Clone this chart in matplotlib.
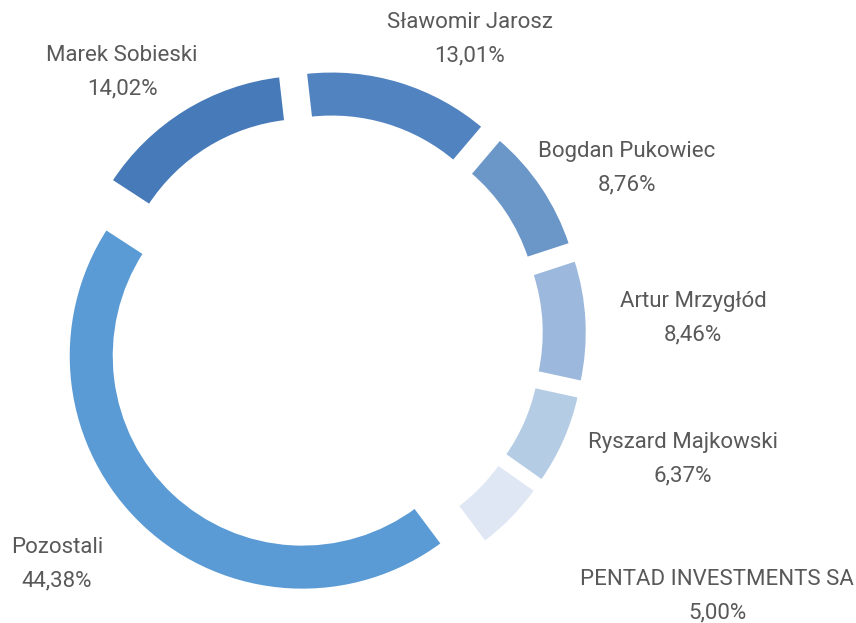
import matplotlib
matplotlib.use("Agg")
import matplotlib.pyplot as plt

# ---- data ----
names = ["Sławomir Jarosz", "Bogdan Pukowiec", "Artur Mrzygłód", "Ryszard Majkowski",
         "PENTAD INVESTMENTS SA", "Pozostali", "Marek Sobieski"]
shares = [13.01, 8.76, 8.46, 6.37, 5.00, 44.38, 14.02]
pct_labels = ["13,01%", "8,76%", "8,46%", "6,37%", "5,00%", "44,38%", "14,02%"]

# ---- style / layout ----
colors = ["#5283C1", "#6B96C8", "#9CB9DD", "#B5CCE5", "#DEE7F3", "#5B9BD5", "#477AB8"]
W, H = 856, 623
CX, CY, RPX = 323, 334, 234.5          # centre and radius in pixels
label_pos_px = [(470, 39), (627, 168), (693, 318), (683, 459), (717, 596), (57, 564), (122, 72)]
text_color = "#595959"
plt.rcParams['font.family'] = ['Roboto', 'DejaVu Sans']

fig = plt.figure(figsize=(W / 100, H / 100), dpi=100)
ax = fig.add_axes([0, 0, 1, 1])

ax.pie(shares, colors=colors, startangle=96.5, counterclock=False,
       radius=1.0, center=(0, 0), explode=[30 / RPX] * len(shares),
       wedgeprops=dict(width=46.5 / RPX, edgecolor="white", linewidth=2.5))

ax.set_xlim(-CX / RPX, (W - CX) / RPX)
ax.set_ylim(-(H - CY) / RPX, CY / RPX)
ax.set_aspect("equal")
ax.axis("off")

for nm, pl, (px, py) in zip(names, pct_labels, label_pos_px):
    ax.text((px - CX) / RPX, (CY - py) / RPX, f"{nm}\n{pl}", ha="center", va="center",
            multialignment="center", fontsize=16, color=text_color, linespacing=1.76)

fig.savefig("out.png", dpi=100)
